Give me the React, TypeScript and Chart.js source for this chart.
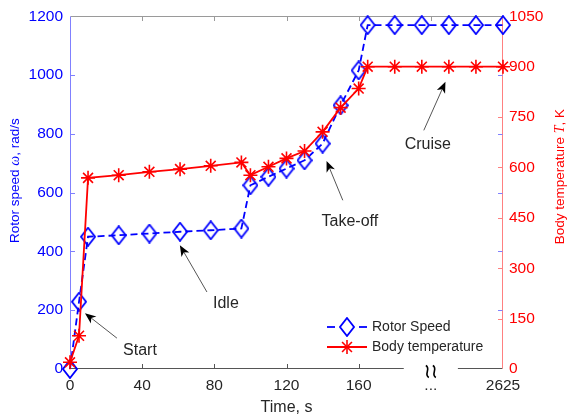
import React, { useEffect, useRef } from "react";
import { Chart, registerables } from "chart.js";
Chart.register(...registerables);

// ---- data ----
const times = [0, 5, 10, 27, 44, 61, 78, 95, 100, 110, 120, 130, 140, 150, 160, 165, 180, 195, 210, 225, 240];
const rotorSpeed = [0, 229, 450, 455, 461, 467, 472, 478, 625, 654, 682, 710, 767, 897, 1016, 1170, 1170, 1170, 1170, 1170, 1170];
const bodyTemp = [20, 99, 569, 577, 587, 595, 605, 615, 577, 602, 627, 649, 706, 778, 835, 900, 900, 900, 900, 900, 900];
const xTickValues = [0, 40, 80, 120, 160, 200, 240];
const xTickLabels = ["0", "40", "80", "120", "160", "...", "2625"];
const leftTicks = [0, 200, 400, 600, 800, 1000, 1200];
const rightTicks = [0, 150, 300, 450, 600, 750, 900, 1050];
const seriesNames = ["Rotor Speed", "Body temperature"];
const annotationTexts = ["Start", "Idle", "Take-off", "Cruise"];
const annotationTextAt = [[38.8, 61], [86.4, 221], [155.1, 500], [198.3, 765]];
const annotationTail = [[26, 105], [75.9, 262], [151.2, 574], [196.1, 812]];
const annotationHead = [[8.3, 190], [60.9, 421], [142.2, 708], [208.1, 977]];
const axisBreak = [185, 215];
const axisTitles = { x: "Time, s", left: ["Rotor speed ", "ω", ", rad/s"], right: ["Body temperature ", "T", ", K"] };

const BLUE = "#0000ff";
const RED = "#ff0000";
const TEXT = "#262626";
const FONT = "'Liberation Sans', Arial, sans-serif";
const SERIF = "'Liberation Serif', 'DejaVu Serif', serif";

function makeDiamond(color: string) {
  const c = document.createElement("canvas");
  const w = 16, h = 20;
  c.width = w; c.height = h;
  const ctx = c.getContext("2d")!;
  ctx.strokeStyle = color;
  ctx.lineWidth = 1.8;
  ctx.beginPath();
  ctx.moveTo(w / 2, 1);
  ctx.lineTo(w - 1, h / 2);
  ctx.lineTo(w / 2, h - 1);
  ctx.lineTo(1, h / 2);
  ctx.closePath();
  ctx.stroke();
  return c;
}

function seg(ctx: CanvasRenderingContext2D, x0: number, y0: number, x1: number, y1: number) {
  ctx.beginPath();
  ctx.moveTo(x0, y0);
  ctx.lineTo(x1, y1);
  ctx.stroke();
}

function drawStar(ctx: CanvasRenderingContext2D, x: number, y: number, r: number) {
  for (let k = 0; k < 4; k++) {
    const ang = (k * Math.PI) / 4;
    seg(ctx, x - Math.cos(ang) * r, y - Math.sin(ang) * r, x + Math.cos(ang) * r, y + Math.sin(ang) * r);
  }
}

function drawRotatedTitle(ctx: CanvasRenderingContext2D, parts: string[], cx: number, cy: number, color: string) {
  ctx.save();
  ctx.translate(cx, cy);
  ctx.rotate(-Math.PI / 2);
  ctx.fillStyle = color;
  ctx.textBaseline = "middle";
  ctx.textAlign = "left";
  const fonts = [`13.5px ${FONT}`, `italic 14px ${SERIF}`, `13.5px ${FONT}`];
  let total = 0;
  const widths = parts.map((p, i) => { ctx.font = fonts[i]; const w = ctx.measureText(p).width; total += w; return w; });
  let xx = -total / 2;
  parts.forEach((p, i) => { ctx.font = fonts[i]; ctx.fillText(p, xx, 0); xx += widths[i]; });
  ctx.restore();
}

const decor = {
  id: "decor",
  beforeDatasetsDraw(chart: any) {
    const { ctx, chartArea: a, scales } = chart;
    const sx = scales.x, sy = scales.y, sy1 = scales.y1;
    const TL = 4.5;
    const L = Math.round(a.left) + 0.5, R = Math.round(a.right) - 0.5;
    const T = Math.round(a.top) + 0.5, B = Math.round(a.bottom) - 0.5;
    ctx.save();
    ctx.lineWidth = 1;
    // top line
    ctx.strokeStyle = "#9a9a9a";
    seg(ctx, L, T, R, T);
    xTickValues.slice(1, -1).forEach((v) => {
      const px = Math.round(sx.getPixelForValue(v)) + 0.5;
      seg(ctx, px, T, px, T + TL);
    });
    // bottom line with break
    ctx.strokeStyle = "#555555";
    const b0 = sx.getPixelForValue(axisBreak[0]), b1 = sx.getPixelForValue(axisBreak[1]);
    seg(ctx, L, B, b0, B);
    seg(ctx, b1, B, R, B);
    xTickValues.slice(1, -1).forEach((v) => {
      if (v >= axisBreak[0] && v <= axisBreak[1]) return;
      const px = Math.round(sx.getPixelForValue(v)) + 0.5;
      seg(ctx, px, B, px, B - TL);
    });
    // break symbol
    const bc = sx.getPixelForValue((axisBreak[0] + axisBreak[1]) / 2);
    ctx.strokeStyle = "#000000";
    ctx.lineWidth = 1.6;
    [-3.5, 3.5].forEach((dx) => {
      const cx = bc + dx, cy = B + 3;
      ctx.beginPath();
      ctx.moveTo(cx - 1.5, cy - 6);
      ctx.bezierCurveTo(cx + 4, cy - 3, cx - 4, cy + 3, cx + 1.5, cy + 6);
      ctx.stroke();
    });
    ctx.lineWidth = 1;
    // left axis
    ctx.strokeStyle = "#8080ff";
    seg(ctx, L, T, L, B);
    leftTicks.slice(1, -1).forEach((v) => {
      const py = Math.round(sy.getPixelForValue(v)) + 0.5;
      seg(ctx, L, py, L + TL, py);
    });
    // right axis
    ctx.strokeStyle = "#ff8080";
    seg(ctx, R, T, R, B);
    rightTicks.slice(1, -1).forEach((v) => {
      const py = Math.round(sy1.getPixelForValue(v)) + 0.5;
      seg(ctx, R, py, R - TL, py);
    });
    ctx.strokeStyle = "#8080ff";
    leftTicks.slice(1, -1).forEach((v) => {
      const py = Math.round(sy.getPixelForValue(v)) + 0.5;
      seg(ctx, R, py, R - TL, py);
    });
    // titles
    ctx.fillStyle = TEXT;
    ctx.font = `16px ${FONT}`;
    ctx.textAlign = "center";
    ctx.textBaseline = "middle";
    ctx.fillText(axisTitles.x, (a.left + a.right) / 2, a.bottom + 39);
    drawRotatedTitle(ctx, axisTitles.left, 15, (a.top + a.bottom) / 2 - 12, BLUE);
    drawRotatedTitle(ctx, axisTitles.right, a.right + 57, (a.top + a.bottom) / 2 - 16, RED);
    ctx.restore();
  },
  afterDatasetsDraw(chart: any) {
    const { ctx, chartArea: a, scales } = chart;
    const sx = scales.x, sy = scales.y;
    ctx.save();
    // annotations
    annotationTexts.forEach((txt, i) => {
      const hx = sx.getPixelForValue(annotationHead[i][0]), hy = sy.getPixelForValue(annotationHead[i][1]);
      const tx = sx.getPixelForValue(annotationTail[i][0]), ty = sy.getPixelForValue(annotationTail[i][1]);
      const dx = hx - tx, dy = hy - ty;
      const len = Math.hypot(dx, dy);
      const ux = dx / len, uy = dy / len, nx = -uy, ny = ux;
      const HL = 11, HW = 4.5;
      ctx.strokeStyle = "#555555";
      ctx.lineWidth = 1;
      seg(ctx, tx, ty, hx - ux * 6, hy - uy * 6);
      ctx.fillStyle = "#000000";
      ctx.beginPath();
      ctx.moveTo(hx, hy);
      ctx.lineTo(hx - ux * HL + nx * HW, hy - uy * HL + ny * HW);
      ctx.lineTo(hx - ux * (HL - 3), hy - uy * (HL - 3));
      ctx.lineTo(hx - ux * HL - nx * HW, hy - uy * HL - ny * HW);
      ctx.closePath();
      ctx.fill();
      ctx.fillStyle = TEXT;
      ctx.font = `16px ${FONT}`;
      ctx.textAlign = "center";
      ctx.textBaseline = "middle";
      ctx.fillText(txt, sx.getPixelForValue(annotationTextAt[i][0]), sy.getPixelForValue(annotationTextAt[i][1]));
    });
    // legend
    const x0 = a.right - 176, x1 = a.right - 136, xm = (x0 + x1) / 2, xt = a.right - 131;
    const r1 = a.bottom - 42, r2 = a.bottom - 22;
    ctx.lineWidth = 1.8;
    ctx.strokeStyle = BLUE;
    seg(ctx, x0, r1, x0 + 8, r1);
    seg(ctx, x1 - 8, r1, x1, r1);
    const dia = makeDiamond(BLUE);
    ctx.drawImage(dia, xm - dia.width / 2, r1 - dia.height / 2);
    ctx.strokeStyle = RED;
    seg(ctx, x0, r2, x1, r2);
    ctx.lineWidth = 1.6;
    drawStar(ctx, xm, r2, 7);
    ctx.fillStyle = TEXT;
    ctx.font = `14px ${FONT}`;
    ctx.textAlign = "left";
    ctx.textBaseline = "middle";
    ctx.fillText(seriesNames[0], xt, r1);
    ctx.fillText(seriesNames[1], xt, r2);
    ctx.restore();
  },
};

export default function App() {
  const ref = useRef<HTMLCanvasElement>(null);
  useEffect(() => {
    const diamond = makeDiamond(BLUE);
    const chart = new Chart(ref.current!, {
      type: "line",
      data: {
        datasets: [
          {
            label: seriesNames[0],
            data: times.map((t, i) => ({ x: t, y: rotorSpeed[i] })),
            yAxisID: "y",
            borderColor: BLUE,
            borderWidth: 1.8,
            borderDash: [7, 4],
            pointStyle: diamond as any,
            pointRadius: 8,
            fill: false,
            tension: 0,
            clip: false as any,
            order: 2,
          },
          {
            label: seriesNames[1],
            data: times.map((t, i) => ({ x: t, y: bodyTemp[i] })),
            yAxisID: "y1",
            borderColor: RED,
            backgroundColor: RED,
            borderWidth: 1.8,
            pointStyle: "star",
            pointRadius: 7,
            pointBorderWidth: 1.6,
            pointBorderColor: RED,
            pointBackgroundColor: RED,
            fill: false,
            tension: 0,
            clip: false as any,
            order: 1,
          },
        ],
      },
      options: {
        responsive: false,
        animation: false,
        events: [],
        layout: { padding: { top: 16, left: 0, right: 0, bottom: 0 } },
        plugins: { legend: { display: false }, tooltip: { enabled: false }, title: { display: false } },
        scales: {
          x: {
            type: "linear",
            position: "bottom",
            min: 0,
            max: 240,
            afterBuildTicks: (s: any) => { s.ticks = xTickValues.map((v) => ({ value: v })); },
            afterFit: (s: any) => { s.height = 47; },
            grid: { display: false, drawTicks: false },
            border: { display: false },
            ticks: {
              autoSkip: false,
              maxRotation: 0,
              padding: 7,
              color: TEXT,
              font: { family: FONT, size: 15.5 },
              callback: (v: any) => { const i = xTickValues.indexOf(Number(v)); return i >= 0 ? xTickLabels[i] : ""; },
            },
          },
          y: {
            type: "linear",
            position: "left",
            min: 0,
            max: 1200,
            afterBuildTicks: (s: any) => { s.ticks = leftTicks.map((v) => ({ value: v })); },
            afterFit: (s: any) => { s.width = 70; },
            grid: { display: false, drawTicks: false },
            border: { display: false },
            ticks: { padding: 7, color: BLUE, font: { family: FONT, size: 15.5 }, callback: (v: any) => String(v) },
          },
          y1: {
            type: "linear",
            position: "right",
            min: 0,
            max: 1050,
            afterBuildTicks: (s: any) => { s.ticks = rightTicks.map((v) => ({ value: v })); },
            afterFit: (s: any) => { s.width = 65; },
            grid: { display: false, drawTicks: false },
            border: { display: false },
            ticks: { padding: 6, color: RED, font: { family: FONT, size: 15.5 }, callback: (v: any) => String(v) },
          },
        },
      },
      plugins: [decor],
    });
    return () => chart.destroy();
  }, []);
  return (
    <div style={{ position: "absolute", left: 0, top: 0, width: 568, height: 416, background: "#fff" }}>
      <canvas ref={ref} width={568} height={416} style={{ display: "block" }} />
    </div>
  );
}
